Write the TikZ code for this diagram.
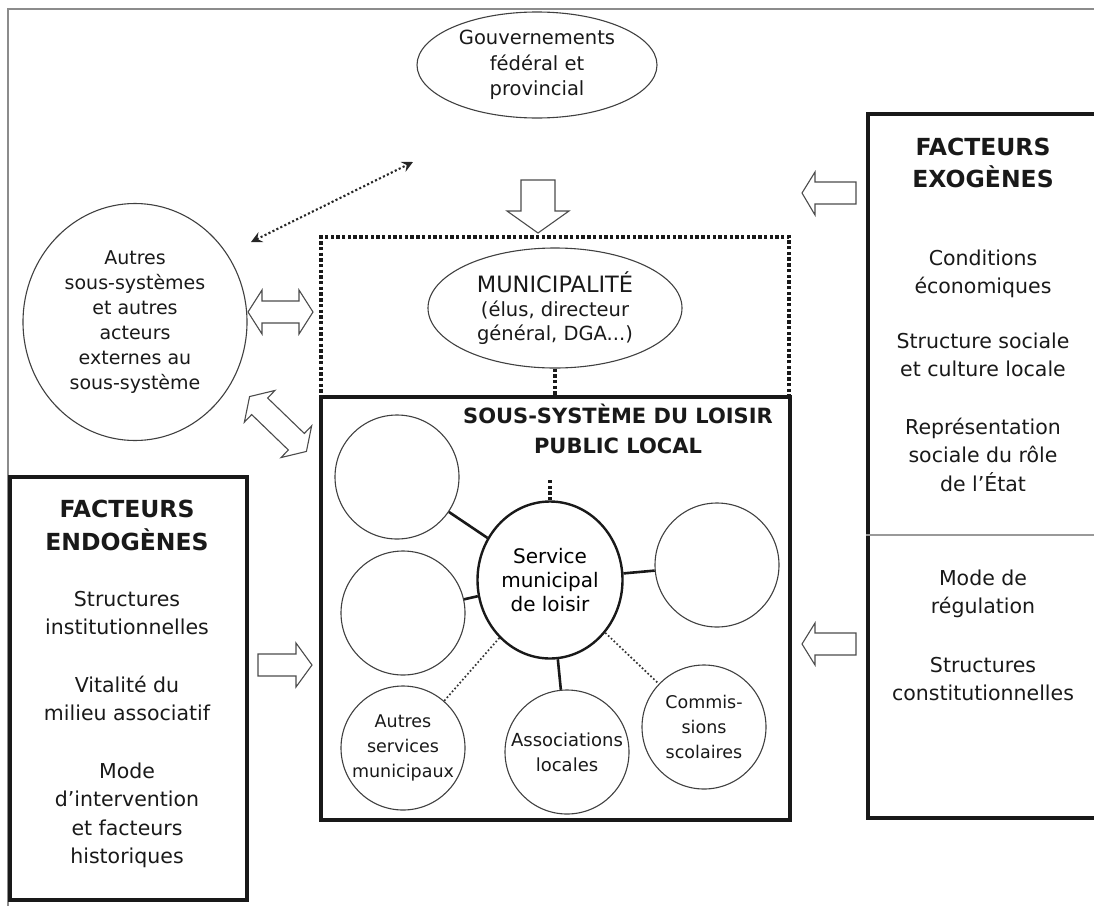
\documentclass[tikz,border=0pt]{standalone}
\usepackage{fontspec}
\setmainfont{DejaVu Sans}
\usetikzlibrary{arrows.meta,shapes.geometric}

\begin{document}
\begin{tikzpicture}[x=1pt,y=-1pt,
  frame/.style={draw=black!45, line width=2.2pt},
  bigbox/.style={draw=black!90, line width=3.5pt, inner sep=0pt},
  dotbox/.style={draw=black!90, line width=3.4pt, dash pattern=on 3.4pt off 2.3pt, inner sep=0pt},
  oval/.style={ellipse, draw=black!75, line width=1.1pt, inner sep=0pt, align=center, text=black!90},
  ring/.style={circle, draw=black!75, line width=1.1pt, inner sep=0pt, minimum size=124pt, align=center,
    text=black!90, font=\fontsize{17.5}{25}\selectfont},
  link/.style={draw=black!90, line width=2.6pt},
  dlink/.style={draw=black!80, line width=1.7pt, dash pattern=on 1.7pt off 2.2pt},
  mlink/.style={draw=black!90, line width=3.4pt, dash pattern=on 3.4pt off 2.3pt},
  farrow/.style={draw=black!85, line width=2.1pt, dash pattern=on 2.1pt off 2.3pt,
    {Stealth[length=11pt,width=11pt,inset=4pt]}-{Stealth[length=11pt,width=11pt,inset=4pt]}},
  barrow/.style={draw=black!70, line width=1.1pt, fill=white, line join=miter},
  txt/.style={anchor=base, text=black!90, font=\fontsize{20.5}{24}\selectfont},
  ttl/.style={anchor=base, text=black!90, font=\fontsize{23.5}{28}\selectfont\bfseries},
]
\useasboundingbox (0,0) rectangle (1094,905);

% outer frame
\draw[frame] (1100,9) -- (8,9) -- (8,910);

% upper level actors
\node[oval, minimum width=240pt, minimum height=106pt,
  font=\fontsize{19.5}{25.5}\selectfont] (gov) at (537,65)
  {Gouvernements\\fédéral et\\provincial};
\node[oval, minimum width=224pt, minimum height=237pt,
  font=\fontsize{19}{25}\selectfont] (oth) at (135,322)
  {Autres\\sous-systèmes\\et autres\\acteurs\\externes au\\sous-système};

% municipality (dotted frame) and local leisure subsystem
\node[dotbox, minimum width=468pt, minimum height=160pt] (mbox) at (555,317) {};
\node[bigbox, minimum width=469pt, minimum height=423pt] (ssl) at (555.5,608.5) {};
\node[oval, minimum width=254pt, minimum height=120pt,
  font=\fontsize{19.5}{24}\selectfont] (mun) at (555,308)
  {{\fontsize{22.5}{24}\selectfont MUNICIPALITÉ}\\(élus, directeur\\général, DGA...)};
\draw[mlink] (mun.south) -- (mun.south |- ssl.north);

\node[anchor=base, text=black!90, font=\fontsize{21}{24}\selectfont\bfseries] (sslA) at (618,423) {SOUS-SYSTÈME DU LOISIR};
\node[anchor=base, text=black!90, font=\fontsize{21}{24}\selectfont\bfseries] (sslB) at (618,453) {PUBLIC LOCAL};

% members of the subsystem
\node[ellipse, draw=black!90, line width=2.4pt, minimum width=145pt, minimum height=157pt,
  inner sep=0pt, align=center, font=\fontsize{20}{24}\selectfont] (sv) at (550,580)
  {Service\\municipal\\de loisir};
\node[ring] (c1) at (397,477) {};
\node[ring] (c2) at (403,613) {};
\node[ring] (c3) at (717,565) {};
\node[ring] (asm) at (403,748) {Autres\\services\\municipaux};
\node[ring, font=\fontsize{18}{25}\selectfont] (asl) at (567,752) {Associations\\locales};
\node[ring] (csc) at (704,727) {Commis-\\sions\\scolaires};

\draw[mlink] (sv.north) -- ++(0,-20);
\draw[link] (sv) -- (c1);
\draw[link] (sv) -- (c2);
\draw[link] (sv) -- (c3);
\draw[link] (sv) -- (asl);
\draw[dlink] (sv) -- (asm);
\draw[dlink] (sv) -- (csc);

% exchange with the other actors
\coordinate (fa) at (251,242);
\coordinate (fb) at (413,162);
\draw[farrow] (fa) -- (fb);

% block arrows
\draw[barrow] (521,180) -- (555,180) -- (555,211) -- (569,211) -- (538,233) -- (507,211) -- (521,211) -- cycle;
\draw[barrow] (248,312) -- (262,290) -- (262,301) -- (299,301) -- (299,290) -- (313,312)
  -- (299,334) -- (299,323) -- (262,323) -- (262,334) -- cycle;
\begin{scope}[shift={(278,424)}, rotate=-44]
  \draw[barrow] (-39.5,0) -- (-25.5,-22) -- (-25.5,-11.5) -- (25.5,-11.5) -- (25.5,-22) -- (39.5,0)
    -- (25.5,22) -- (25.5,11.5) -- (-25.5,11.5) -- (-25.5,22) -- cycle;
\end{scope}
\draw[barrow] (258,654) -- (296,654) -- (296,643) -- (312,665) -- (296,687) -- (296,676) -- (258,676) -- cycle;
\draw[barrow] (856,182) -- (815,182) -- (815,172) -- (802,193) -- (815,215) -- (815,204) -- (856,204) -- cycle;
\draw[barrow] (856,633) -- (815,633) -- (815,623) -- (802,644) -- (815,665) -- (815,655) -- (856,655) -- cycle;

% exogenous factors
\node[bigbox, minimum width=240pt, minimum height=704pt] (exo) at (988,466) {};
\draw[draw=black!40, line width=1.5pt] (exo.west |- 0,535) -- (1100,535);
\node[ttl] (x1) at (983,155) {FACTEURS};
\node[ttl] (x2) at (983,187) {EXOGÈNES};
\node[txt] (x3) at (983,265) {Conditions};
\node[txt] (x4) at (983,293) {économiques};
\node[txt] (x5) at (983,348) {Structure sociale};
\node[txt] (x6) at (983,376) {et culture locale};
\node[txt] (x7) at (983,434) {Représentation};
\node[txt] (x8) at (983,462) {sociale du rôle};
\node[txt] (x9) at (983,491) {de l’État};
\node[txt] (x10) at (983,585) {Mode de};
\node[txt] (x11) at (983,613) {régulation};
\node[txt] (x12) at (983,672) {Structures};
\node[txt] (x13) at (983,700) {constitutionnelles};

% endogenous factors
\node[bigbox, minimum width=237pt, minimum height=423pt] (endo) at (128.5,688.5) {};
\node[ttl] (n1) at (127,517) {FACTEURS};
\node[ttl] (n2) at (127,550) {ENDOGÈNES};
\node[txt] (n3) at (127,606) {Structures};
\node[txt] (n4) at (127,634) {institutionnelles};
\node[txt] (n5) at (127,692) {Vitalité du};
\node[txt] (n6) at (127,720) {milieu associatif};
\node[txt] (n7) at (127,778) {Mode};
\node[txt] (n8) at (127,806) {d’intervention};
\node[txt] (n9) at (127,835) {et facteurs};
\node[txt] (n10) at (127,863) {historiques};
\end{tikzpicture}
\end{document}
